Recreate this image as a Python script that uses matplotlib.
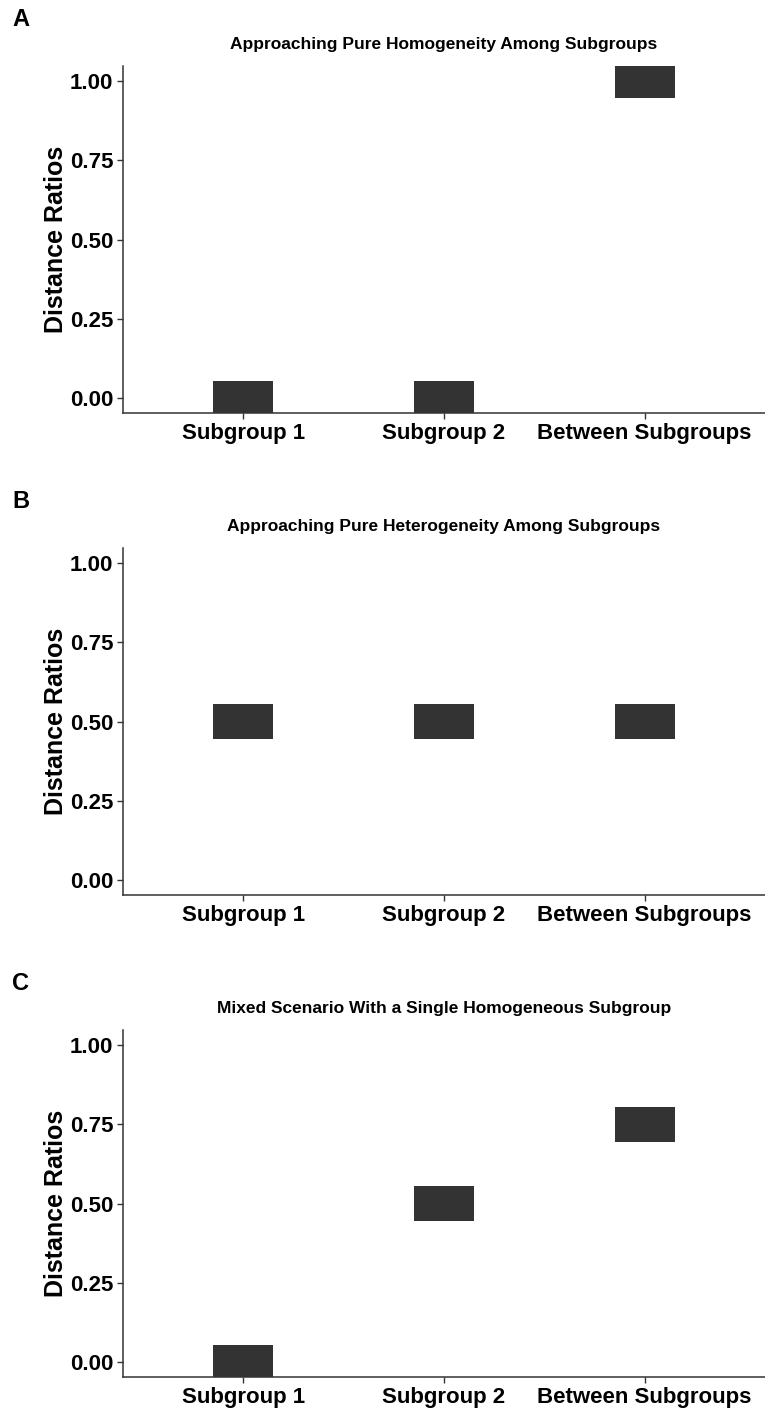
import matplotlib
matplotlib.use("Agg")
import matplotlib.pyplot as plt

# ── data ────────────────────────────────────────────────────────────────
categories = ["Subgroup 1", "Subgroup 2", "Between Subgroups"]
panel_letters = ["A", "B", "C"]
panel_titles = [
    "Approaching Pure Homogeneity Among Subgroups",
    "Approaching Pure Heterogeneity Among Subgroups",
    "Mixed Scenario With a Single Homogeneous Subgroup",
]
ratios_a = [0.00, 0.00, 1.00]
ratios_b = [0.50, 0.50, 0.50]
ratios_c = [0.00, 0.50, 0.75]
yticks = [0.00, 0.25, 0.50, 0.75, 1.00]

plt.rcParams["font.family"] = ["Liberation Sans", "DejaVu Sans"]
plt.rcParams["font.weight"] = "bold"

TILE_H = 0.11
TILE_W = 0.30
COL = "#333333"

fig = plt.figure(figsize=(7.65, 14.08), dpi=100)

# axes boxes in pixel coords (top, bottom) of each panel
panel_px = [(66, 413), (548, 895), (1030, 1377)]
left_px, right_px = 123, 765
W, H = 765.0, 1408.0

for letter, title, vals, (top, bot) in zip(
        panel_letters, panel_titles, [ratios_a, ratios_b, ratios_c], panel_px):
    ax = fig.add_axes([left_px / W, 1 - bot / H,
                       (right_px - left_px) / W, (bot - top) / H])
    x = list(range(1, len(categories) + 1))
    ax.bar(x, [TILE_H] * len(vals), width=TILE_W,
           bottom=[v - TILE_H / 2 for v in vals], color=COL, linewidth=0)

    ax.set_xlim(0.4, 3.6)
    ax.set_ylim(-0.047, 1.047)
    ax.set_xticks(x)
    ax.set_xticklabels(categories, fontsize=16, fontweight="bold")
    ax.set_yticks(yticks)
    ax.set_yticklabels([f"{t:.2f}" for t in yticks], fontsize=16,
                       fontweight="bold")
    ax.set_ylabel("Distance Ratios", fontsize=18, fontweight="bold",
                  labelpad=1.5)
    ax.set_title(title, fontsize=12.5, fontweight="bold", pad=12)

    for s in ["top", "right"]:
        ax.spines[s].set_visible(False)
    for s in ["left", "bottom"]:
        ax.spines[s].set_linewidth(1.1)
        ax.spines[s].set_color("#333333")
    ax.tick_params(axis="both", length=4, width=1.0, color="#333333",
                   labelcolor="black", pad=3)

    fig.text(12 / W, 1 - (top - 46) / H, letter, fontsize=17,
             fontweight="bold", va="center", ha="left")

fig.savefig("out.png", dpi=100, facecolor="white")
